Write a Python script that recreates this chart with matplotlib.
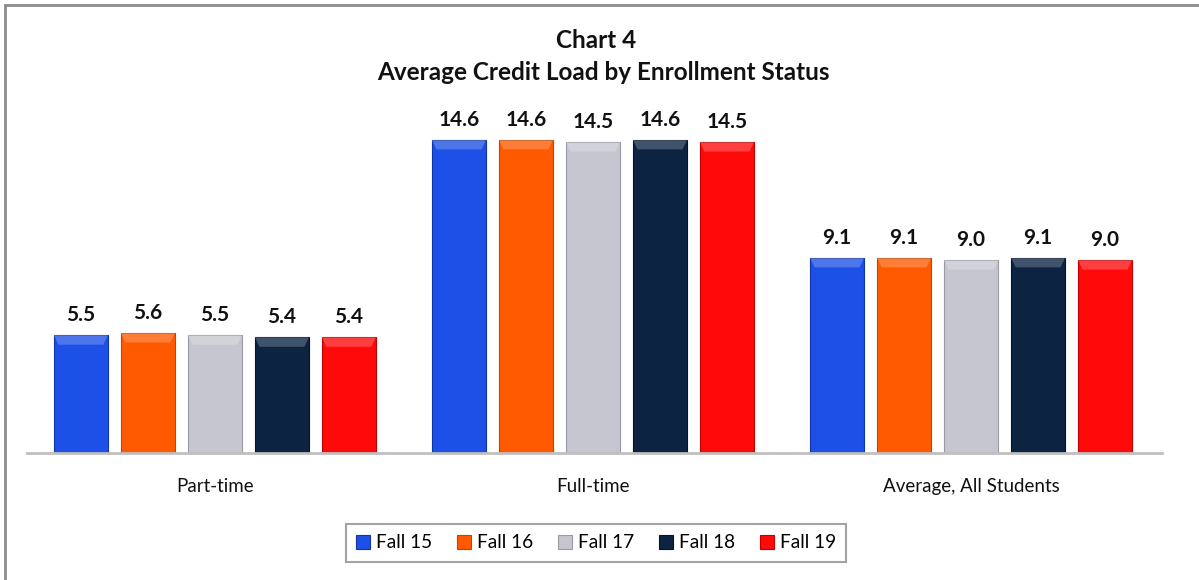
import matplotlib
matplotlib.use("Agg")
import matplotlib.pyplot as plt
from matplotlib.patches import Rectangle, Polygon
import numpy as np

categories = ["Part-time", "Full-time", "Average, All Students"]
series_names = ["Fall 15", "Fall 16", "Fall 17", "Fall 18", "Fall 19"]
fall15 = [5.5, 14.6, 9.1]
fall16 = [5.6, 14.6, 9.1]
fall17 = [5.5, 14.5, 9.0]
fall18 = [5.4, 14.6, 9.1]
fall19 = [5.4, 14.5, 9.0]
series_values = [fall15, fall16, fall17, fall18, fall19]
colors = ["#1C50E6", "#FF5A00", "#C6C6D0", "#0C2342", "#FF0A0A"]
edge_colors = ["#0F36A8", "#C24400", "#9A9AA6", "#061428", "#C00000"]

plt.rcParams['font.family'] = ['Lato', 'DejaVu Sans']

W, H = 1199, 580
fig = plt.figure(figsize=(W / 100, H / 100), dpi=100)

def px(x0, y0, x1, y1):
    return [x0 / W, 1 - y1 / H, (x1 - x0) / W, (y1 - y0) / H]

ax = fig.add_axes(px(27, 99, 1162, 453))
ax.set_xlim(-0.497, 2.505)
ax.set_ylim(0, 16.5)

x = np.arange(len(categories))
bw = 0.1429
step = 0.1772
for i, (name, vals) in enumerate(zip(series_names, series_values)):
    off = (i - 2) * step
    ax.bar(x + off, vals, width=bw, color=colors[i], edgecolor=edge_colors[i],
           linewidth=0.8, label=name, zorder=2)
    for xi, v in zip(x + off, vals):
        bev_y = 0.45
        bev_x = 0.012
        poly = Polygon([[xi - bw / 2, v], [xi + bw / 2, v],
                        [xi + bw / 2 - bev_x, v - bev_y], [xi - bw / 2 + bev_x, v - bev_y]],
                       closed=True, facecolor="white", alpha=0.22, edgecolor="none", zorder=3)
        ax.add_patch(poly)
        ax.annotate(f"{v:.1f}", (xi, v), xytext=(0, 7), textcoords="offset points",
                    ha="center", va="bottom", fontsize=15, fontweight="bold", color="#111111")

for s in ["top", "right", "left"]:
    ax.spines[s].set_visible(False)
ax.spines["bottom"].set_color("#BFBFBF")
ax.spines["bottom"].set_linewidth(2)
ax.set_yticks([])
ax.set_xticks(x)
ax.set_xticklabels(categories, fontsize=13.5, color="#111111")
ax.tick_params(axis="x", length=0, pad=18)

fig.text(596 / W, 1 - 40 / H, "Chart 4", ha="center", va="center",
         fontsize=17.5, fontweight="bold", color="#111111")
fig.text(603 / W, 1 - 73 / H, "Average Credit Load by Enrollment Status", ha="center",
         va="center", fontsize=17.5, fontweight="bold", color="#111111")

leg = fig.legend(loc="center", bbox_to_anchor=(596 / W, 1 - 543 / H), ncol=5,
                 fontsize=13.7, frameon=True, fancybox=False, handlelength=0.75,
                 handleheight=0.75, handletextpad=0.3, columnspacing=1.3,
                 borderpad=0.55, edgecolor="#8C8C8C")
leg.get_frame().set_linewidth(1.5)

border = Rectangle((5 / W, -0.02), 1.1, 1 - 5 / H + 0.02, transform=fig.transFigure,
                   fill=False, edgecolor="#8C8C8C", linewidth=2)
fig.patches.append(border)

fig.savefig("out.png", dpi=100)
